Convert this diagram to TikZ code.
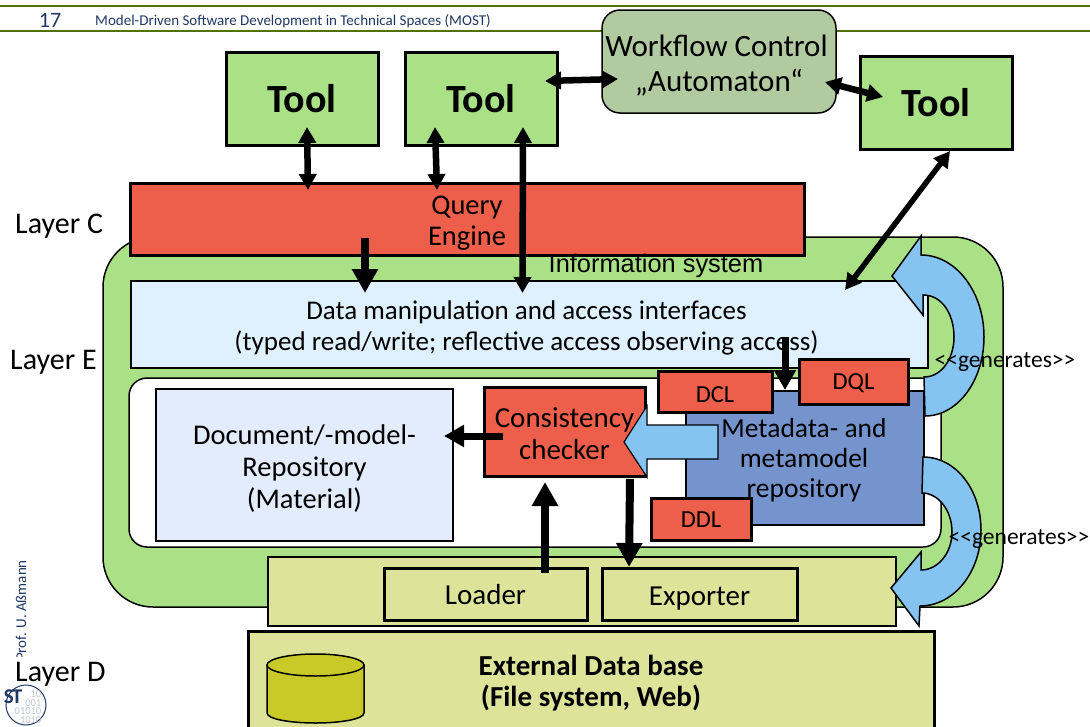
\documentclass[tikz,border=0pt]{standalone}
\usepackage{fontspec}
\setmainfont{Carlito}
\newfontfamily\arialfont{Liberation Sans}
\usetikzlibrary{arrows.meta}

\definecolor{toolColor}{RGB}{170,225,135}
\definecolor{flowColor}{RGB}{177,202,160}
\definecolor{queryColor}{RGB}{237,95,74}
\definecolor{accessColor}{RGB}{223,241,254}
\definecolor{docColor}{RGB}{226,236,252}
\definecolor{metaColor}{RGB}{117,147,204}
\definecolor{bandColor}{RGB}{221,228,154}
\definecolor{cylColor}{RGB}{201,202,40}
\definecolor{curveColor}{RGB}{133,196,240}
\definecolor{headColor}{RGB}{79,115,0}
\definecolor{profColor}{RGB}{31,56,100}

\newcommand{\lineTop}[1]{\rule{0pt}{#1}}

\tikzset{
  box/.style={draw,line width=#1,anchor=north west,inner sep=0pt,outer sep=0pt,align=center,text=black},
  box/.default=1.5pt,
  big/.style={font=\fontsize{28.5}{32}\selectfont},
  mid/.style={font=\fontsize{27}{31}\selectfont},
  small/.style={font=\fontsize{24.5}{28}\selectfont},
  label/.style={inner sep=0pt,font=\fontsize{30}{34}\selectfont},
  toolbox/.style={box=3pt,fill=toolColor,minimum width=152pt,minimum height=93pt,font=\fontsize{40}{44}\selectfont\bfseries},
  onearrow/.style={line width=8pt,-{Triangle[length=24pt,width=25pt]}},
  medarrow/.style={line width=7pt,-{Triangle[length=20pt,width=21pt]}},
  twoarrow/.style={line width=6.5pt,{Triangle[length=16pt,width=17pt]}-{Triangle[length=16pt,width=17pt]}},
  curved/.style={draw,line width=1.5pt,fill=curveColor,line join=miter}
}

\begin{document}
\begin{tikzpicture}[x=1pt,y=-1pt]
  \useasboundingbox (0,0) rectangle (1090,726);
  % Header
  \draw[headColor,line width=1.5pt] (0,6) -- (1090,6);
  \draw[headColor,line width=1.5pt] (0,31) -- (1090,31);
  \node[inner sep=0pt,text=profColor,font=\fontsize{22}{24}\selectfont] (pageNo) at (50,20) {17};
  \node[inner sep=0pt,anchor=west,text=profColor,font=\fontsize{15}{18}\selectfont] (title) at (95,21) {Model-Driven Software Development in Technical Spaces (MOST)};
  \node[inner sep=0pt,rotate=90,anchor=west,text=profColor,font=\fontsize{15}{18}\selectfont] (prof) at (21,661) {Prof. U. Aßmann};

  % Information system
  \node[box,fill=toolColor,rounded corners=50pt,minimum width=900pt,minimum height=370pt] (infoSystem) at (103,237) {};
  \node[box,fill=accessColor,minimum width=797pt,minimum height=87pt,mid] (access) at (131,281) {\lineTop{26pt}Data manipulation and access interfaces\hspace*{6pt}\\(typed read/write; reflective access observing access)\hspace*{6pt}};
  \node[box,fill=white,rounded corners=18pt,minimum width=812pt,minimum height=169pt] (repoArea) at (129,378) {};
  \node[box,fill=docColor,minimum width=297pt,minimum height=152pt,big] (docRepo) at (156,389) {\lineTop{27pt}Document/-model-\\Repository\\(Material)};
  \node[box,fill=metaColor,minimum width=238pt,minimum height=134pt] (metaRepo) at (686,391) {};
  \node[box=3pt,fill=queryColor,minimum width=161pt,minimum height=89pt,font=\fontsize{29}{32}\selectfont] (checker) at (484,387) {\lineTop{24pt}Consistency\\checker};
  \node[box=3pt,fill=queryColor,minimum width=114pt,minimum height=41pt,small] (dcl) at (658,371) {\lineTop{21.5pt}DCL};
  \node[box=3pt,fill=queryColor,minimum width=109pt,minimum height=45pt,small] (dql) at (799,359) {\lineTop{19.7pt}DQL};
  \node[box=3pt,fill=queryColor,minimum width=100pt,minimum height=42pt,small] (ddl) at (651,498) {\lineTop{17.7pt}DDL};
  \node[inner sep=0pt,align=center,font=\fontsize{27.5}{30}\selectfont] (metaLabel) at (804,460) {Metadata- and\\metamodel\\repository};

  % Arrow from metadata to checker
  \draw[curved,line width=1.2pt] (718,425) -- (647,425) -- (647,406) -- (624,442) -- (647,477) -- (647,459) -- (718,459) -- cycle;

  % Bottom band
  \node[box,fill=bandColor,minimum width=628pt,minimum height=69pt] (band) at (268,557) {};
  \node[box=3pt,fill=bandColor,minimum width=203pt,minimum height=52pt,font=\fontsize{29}{32}\selectfont] (loader) at (384,568) {\lineTop{22pt}Loader};
  \node[box=3pt,fill=bandColor,minimum width=195pt,minimum height=52pt,font=\fontsize{29}{32}\selectfont] (exporter) at (602,568) {\lineTop{28pt}Exporter};
  \node[box=3pt,fill=bandColor,minimum width=686pt,minimum height=100pt] (database) at (248,631) {};
  \node[inner sep=0pt,align=center,font=\fontsize{29}{31}\selectfont\bfseries] (dbLabel) at (591,683) {External Data base\\(File system, Web)};
  \draw[line width=1.5pt,fill=cylColor] (267,665) -- (267,713) .. controls (267,719) and (290,723) .. (315.5,723) .. controls (341,723) and (364,719) .. (364,713) -- (364,665) -- cycle;
  \draw[line width=1.5pt,fill=cylColor] (315.5,665) ellipse [x radius=48.5pt,y radius=11pt];

  % Layer C and tools
  \node[box=3pt,fill=queryColor,minimum width=674pt,minimum height=72pt,font=\fontsize{28.5}{31}\selectfont] (query) at (130,183) {\lineTop{26.5pt}Query\\Engine};
  \node[inner sep=0pt,font=\arialfont\fontsize{25.4}{28}\selectfont] (infoLabel) at (656,266) {Information system};
  \node[toolbox] (toolA) at (226,52) {\lineTop{28.5pt}Tool};
  \node[toolbox] (toolB) at (405,52) {\lineTop{28.5pt}Tool};
  \node[toolbox] (toolC) at (860,56) {\lineTop{28.5pt}Tool};
  \node[box,fill=flowColor,rounded corners=18pt,minimum width=234pt,minimum height=103pt,font=\fontsize{31}{35}\selectfont] (workflow) at (602,10) {\lineTop{30pt}Workflow Control\hspace*{5pt}\\„Automaton“};

  % Layer labels
  \node[label,anchor=west] (layerC) at (15,226) {Layer C};
  \node[label,anchor=west] (layerE) at (10,362) {Layer E};
  \node[label,anchor=west,fill=white,minimum height=34pt] (layerD) at (15,674) {Layer D};

  % Logo
  \node[draw,circle,profColor,line width=1pt,minimum size=40pt,inner sep=0pt] (logo) at (26,705) {};
  \node[inner sep=0pt,align=right,text=profColor!30,font=\fontsize{10.5}{8.5}\selectfont] (logoBits) at (28,707) {10\\001\\01010\\1010};
  \node[inner sep=0pt,text=profColor,font=\fontsize{21}{21}\selectfont\bfseries] (logoText) at (13,697) {S\kern-2ptT};

  % Generated interfaces
  \draw[curved] (921,255) .. controls (956,255) and (984,292) .. (984,337) .. controls (984,380) and (958,416) .. (925,416) -- (924,377) .. controls (942,377) and (954,358) .. (954,337) .. controls (954,314) and (942,295) .. (923,295) -- (923,315) -- (892,276) -- (921,236) -- cycle;
  \draw[curved] (923,457) .. controls (956,457) and (981,490) .. (981,530) .. controls (981,572) and (954,606) .. (920,606) -- (919,626) -- (891,588) -- (921,552) -- (921,570) .. controls (938,570) and (952,553) .. (952,532) .. controls (952,510) and (938,493) .. (922,493) -- cycle;
  \node[inner sep=0pt,font=\fontsize{23.5}{26}\selectfont] (genUpper) at (1005,362) {<{}<generates>{}>};
  \node[inner sep=0pt,font=\fontsize{23.5}{26}\selectfont] (genLower) at (1019,539) {<{}<generates>{}>};

  % Connectors
  \draw[twoarrow] ([xshift=5pt,yshift=18pt]toolA.south) -- ([xshift=-159pt,yshift=-7pt]query.north);
  \draw[twoarrow] ([xshift=-46pt,yshift=18pt]toolB.south) -- ([xshift=-30pt,yshift=-7pt]query.north);
  \draw[twoarrow] ([xshift=42pt,yshift=18pt]toolB.south) -- ([xshift=-7pt,yshift=-12pt]access.north);
  \draw[onearrow] ([xshift=-102pt,yshift=17pt]query.south) -- ([xshift=-164.5pt,yshift=-12pt]access.north);
  \draw[twoarrow] ([xshift=-12pt,yshift=17.5pt]toolB.east) -- ([xshift=16pt,yshift=-17.5pt]workflow.west);
  \draw[twoarrow] ([xshift=-11pt,yshift=-20.5pt]workflow.east) -- ([xshift=23pt,yshift=5.5pt]toolC.west);
  \draw[twoarrow,line width=5.5pt] ([xshift=14pt,yshift=-2pt]toolC.south) -- ([xshift=-83pt,yshift=-9pt]access.north east);
  \draw[medarrow] ([xshift=255.5pt,yshift=31pt]access.south) -- ([xshift=-20pt,yshift=1pt]metaRepo.north);
  \draw[medarrow] ([xshift=19pt,yshift=-4.5pt]checker.west) -- ([xshift=-9pt,yshift=29pt]docRepo.east);
  \draw[onearrow] ([xshift=59.5pt,yshift=-5pt]loader.north) -- ([xshift=-19.5pt,yshift=-6pt]checker.south);
  \draw[onearrow] ([xshift=65.5pt,yshift=-3pt]checker.south) -- ([xshift=-70.5pt,yshift=1pt]exporter.north);
\end{tikzpicture}
\end{document}
